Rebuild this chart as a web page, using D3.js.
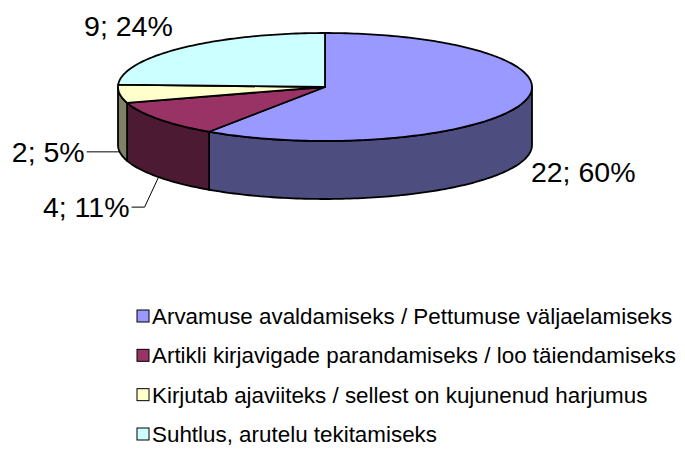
<!DOCTYPE html>
<html>
<head>
<meta charset="utf-8">
<script src="https://cdn.jsdelivr.net/npm/d3@7"></script>
<style>
  body { margin: 0; background: #fff; }
  text { font-family: "Liberation Sans", Arial, sans-serif; fill: #000; }
</style>
</head>
<body>
<script>
var categories = [
  "Arvamuse avaldamiseks / Pettumuse väljaelamiseks",
  "Artikli kirjavigade parandamiseks / loo täiendamiseks",
  "Kirjutab ajaviiteks / sellest on kujunenud harjumus",
  "Suhtlus, arutelu tekitamiseks"
];
var values = [22, 4, 2, 9];
var shares = [60, 11, 5, 24];
var topColors = ["#9999FF", "#993366", "#FFFFCC", "#CCFFFF"];

var w = 685, h = 451;
var cx = 325, cy = 87, rx = 207, ry = 54, depth = 58;

var svg = d3.select("body").append("svg")
    .attr("width", w)
    .attr("height", h);

svg.append("rect").attr("width", w).attr("height", h).attr("fill", "#fff");

// side colour = half of top colour (excel style shading)
function shade(c) {
  var r = d3.rgb(c);
  return d3.rgb(r.r / 2, r.g / 2, r.b / 2).toString();
}

function pt(a, dy) {
  return [cx + rx * Math.sin(a), cy - ry * Math.cos(a) + (dy || 0)];
}

function arcPoints(a0, a1, dy) {
  var n = Math.max(2, Math.ceil((a1 - a0) / 0.02));
  return d3.range(n + 1).map(function(i) {
    return pt(a0 + (a1 - a0) * i / n, dy);
  });
}

var line = d3.line();

var pie = d3.pie().sort(null).startAngle(0).endAngle(2 * Math.PI);
var arcs = pie(values);

var chart = svg.append("g");

// side walls (front half only)
arcs.forEach(function(d, i) {
  var a0 = Math.max(d.startAngle, Math.PI / 2);
  var a1 = Math.min(d.endAngle, 3 * Math.PI / 2);
  if (a1 <= a0) return;
  var top = arcPoints(a0, a1, 0);
  var bottom = arcPoints(a0, a1, depth).reverse();
  chart.append("path")
      .attr("d", line(top.concat(bottom)) + "Z")
      .attr("fill", shade(topColors[i]))
      .attr("stroke", "#000")
      .attr("stroke-width", 1.8)
      .attr("stroke-linejoin", "round");
});

// top faces
arcs.forEach(function(d, i) {
  var p = [[cx, cy]].concat(arcPoints(d.startAngle, d.endAngle, 0));
  chart.append("path")
      .attr("d", line(p) + "Z")
      .attr("fill", topColors[i])
      .attr("stroke", "#000")
      .attr("stroke-width", 1.8)
      .attr("stroke-linejoin", "round");
});

// data labels
arcs.forEach(function(d, i) {
  var mid = (d.startAngle + d.endAngle) / 2;
  var front = Math.cos(mid) < 0;
  var anchor = pt(mid, front ? depth : 0);
  var left = Math.sin(mid) < 0;
  var label = values[i] + "; " + shares[i] + "%";
  var g = svg.append("g");
  var tx, ty;
  if (i === 0) {
    tx = anchor[0] + 8; ty = anchor[1] + 21;
  } else if (i === 1) {
    g.append("path")
        .attr("d", line([anchor, [anchor[0] - 14, anchor[1] + 30], [anchor[0] - 27, anchor[1] + 30]]))
        .attr("fill", "none").attr("stroke", "#000").attr("stroke-width", 1);
    tx = anchor[0] - 29; ty = anchor[1] + 40;
  } else if (i === 2) {
    g.append("path")
        .attr("d", line([anchor, [anchor[0] - 33, anchor[1]]]))
        .attr("fill", "none").attr("stroke", "#000").attr("stroke-width", 1);
    tx = anchor[0] - 35; ty = anchor[1] + 10;
  } else {
    tx = anchor[0] - 9; ty = anchor[1] - 12;
  }
  g.append("text")
      .attr("x", tx)
      .attr("y", ty)
      .attr("text-anchor", left ? "end" : "start")
      .attr("font-size", 28.5)
      .text(label);
});

// legend
var ly = d3.scalePoint()
    .domain(d3.range(categories.length))
    .range([316, 434]);

var legend = svg.append("g");
categories.forEach(function(c, i) {
  var row = legend.append("g").attr("transform", "translate(137," + ly(i) + ")");
  row.append("rect")
      .attr("x", 0).attr("y", -6)
      .attr("width", 12).attr("height", 12)
      .attr("fill", topColors[i])
      .attr("stroke", "#000")
      .attr("stroke-width", 1);
  row.append("text")
      .attr("x", 15)
      .attr("y", 8)
      .attr("font-size", 22.4)
      .text(c);
});
</script>
</body>
</html>
